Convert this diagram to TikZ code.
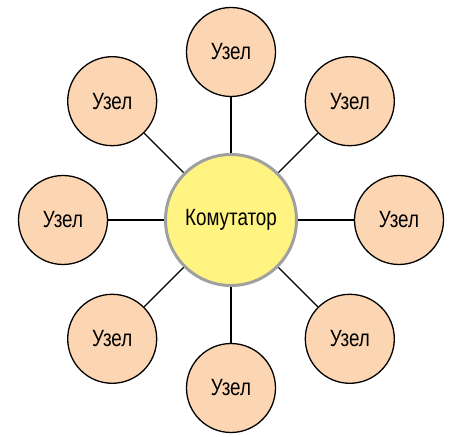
\documentclass[tikz,border=0pt]{standalone}
\usepackage{fontspec}
\setmainfont{Liberation Sans}[FakeStretch=0.8]
\definecolor{nodepeach}{RGB}{252,214,178}
\definecolor{hubyellow}{RGB}{255,244,130}
\definecolor{hubgray}{RGB}{160,160,160}
\tikzset{
    uzel/.style={draw, circle, fill=nodepeach, line width=1.3pt, minimum size=89pt, inner sep=0pt, font=\fontsize{23.5}{26}\selectfont},
    hub/.style={draw=hubgray, circle, fill=hubyellow, line width=3pt, minimum size=131pt, inner sep=0pt, font=\fontsize{23.5}{26}\selectfont},
    link/.style={line width=1.2pt}
}
\begin{document}
\begin{tikzpicture}[x=1pt, y=1pt]
            \useasboundingbox (0, 0) rectangle (452, 436);
            \node[hub]  (switch) at (231, 216) {Комутатор};
            \node[uzel] (top)    at (231, 384) {Узел};
            \node[uzel] (topr)   at (349.8, 334.8) {Узел};
            \node[uzel] (right)  at (399, 216) {Узел};
            \node[uzel] (botr)   at (349.8, 97.2) {Узел};
            \node[uzel] (bot)    at (231, 48) {Узел};
            \node[uzel] (botl)   at (112.2, 97.2) {Узел};
            \node[uzel] (left)   at (63, 216) {Узел};
            \node[uzel] (topl)   at (112.2, 334.8) {Узел};

            \draw[link] (switch) -- (top);
            \draw[link] (switch) -- (topr);
            \draw[link] (switch) -- (right);
            \draw[link] (switch) -- (botr);
            \draw[link] (switch) -- (bot);
            \draw[link] (switch) -- (botl);
            \draw[link] (switch) -- (left);
            \draw[link] (switch) -- (topl);
        \end{tikzpicture}
\end{document}
